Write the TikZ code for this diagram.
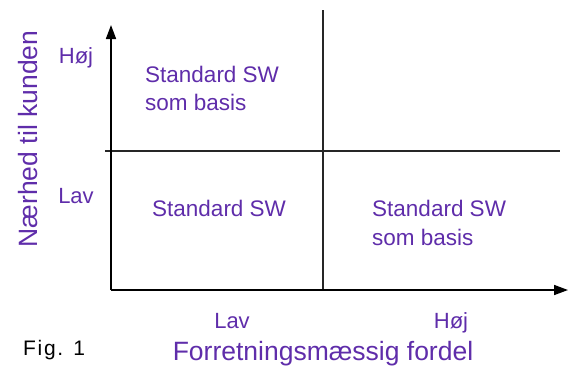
\documentclass[tikz,border=0pt]{standalone}
\usepackage{fontspec}
\setmainfont{Liberation Sans}
\usetikzlibrary{arrows.meta}
\definecolor{lbl}{RGB}{95,45,170}
\tikzset{
  axisline/.style={line width=1.6pt, black},
  gridline/.style={line width=1.4pt, black!85},
  lbltext/.style={text=lbl, font=\fontsize{22}{26}\selectfont, inner sep=0pt},
  titletext/.style={text=lbl, font=\fontsize{26.5}{30}\selectfont, inner sep=0pt},
  cellstack/.style={text=lbl, font=\fontsize{22.5}{28}\selectfont, inner sep=0pt, align=left},
  tip/.style={-{Triangle[length=14pt,width=10pt]}}
}
\begin{document}
\begin{tikzpicture}[x=1pt,y=-1pt]
\useasboundingbox (0,0) rectangle (569,367);
% frame coordinates
\coordinate (O) at (111,290);
\coordinate (Ytop) at (111,25);
\coordinate (Xend) at (568,290);
\coordinate (Hl) at (105,151);
\coordinate (Hr) at (560,151);
\coordinate (Vt) at (323,10);
\coordinate (Vb) at (323,290);
% lines
\draw[gridline] (Hl) -- (Hr);
\draw[gridline] (Vt) -- (Vb);
\draw[axisline,tip] (O) -- (Ytop);
\draw[axisline,tip] (O) -- (Xend);
% axis labels
\node[lbltext, anchor=base] (yh) at (76,63) {Høj};
\node[lbltext, anchor=base] (yl) at (76,203) {Lav};
\node[lbltext, anchor=base] (xl) at (232,328) {Lav};
\node[lbltext, anchor=base] (xh) at (451,328) {Høj};
\node[titletext, anchor=base] (xt) at (323,360) {Forretningsmæssig fordel};
\node[titletext, anchor=base, rotate=90] (yt) at (37,139) {Nærhed til kunden};
\node[text=black, font=\fontsize{21}{24}\selectfont\addfontfeature{LetterSpace=8}, inner sep=0pt, anchor=base west] (fig) at (23,355) {Fig. 1};
% cells
\node[cellstack, anchor=base west] (c1a) at (145,82) {Standard SW};
\node[cellstack, anchor=base west] (c1b) at (145,110) {som basis};
\node[cellstack, anchor=base west] (c2) at (152,216) {Standard SW};
\node[cellstack, anchor=base west] (c3a) at (372,216) {Standard SW};
\node[cellstack, anchor=base west] (c3b) at (372,245) {som basis};
\end{tikzpicture}
\end{document}
